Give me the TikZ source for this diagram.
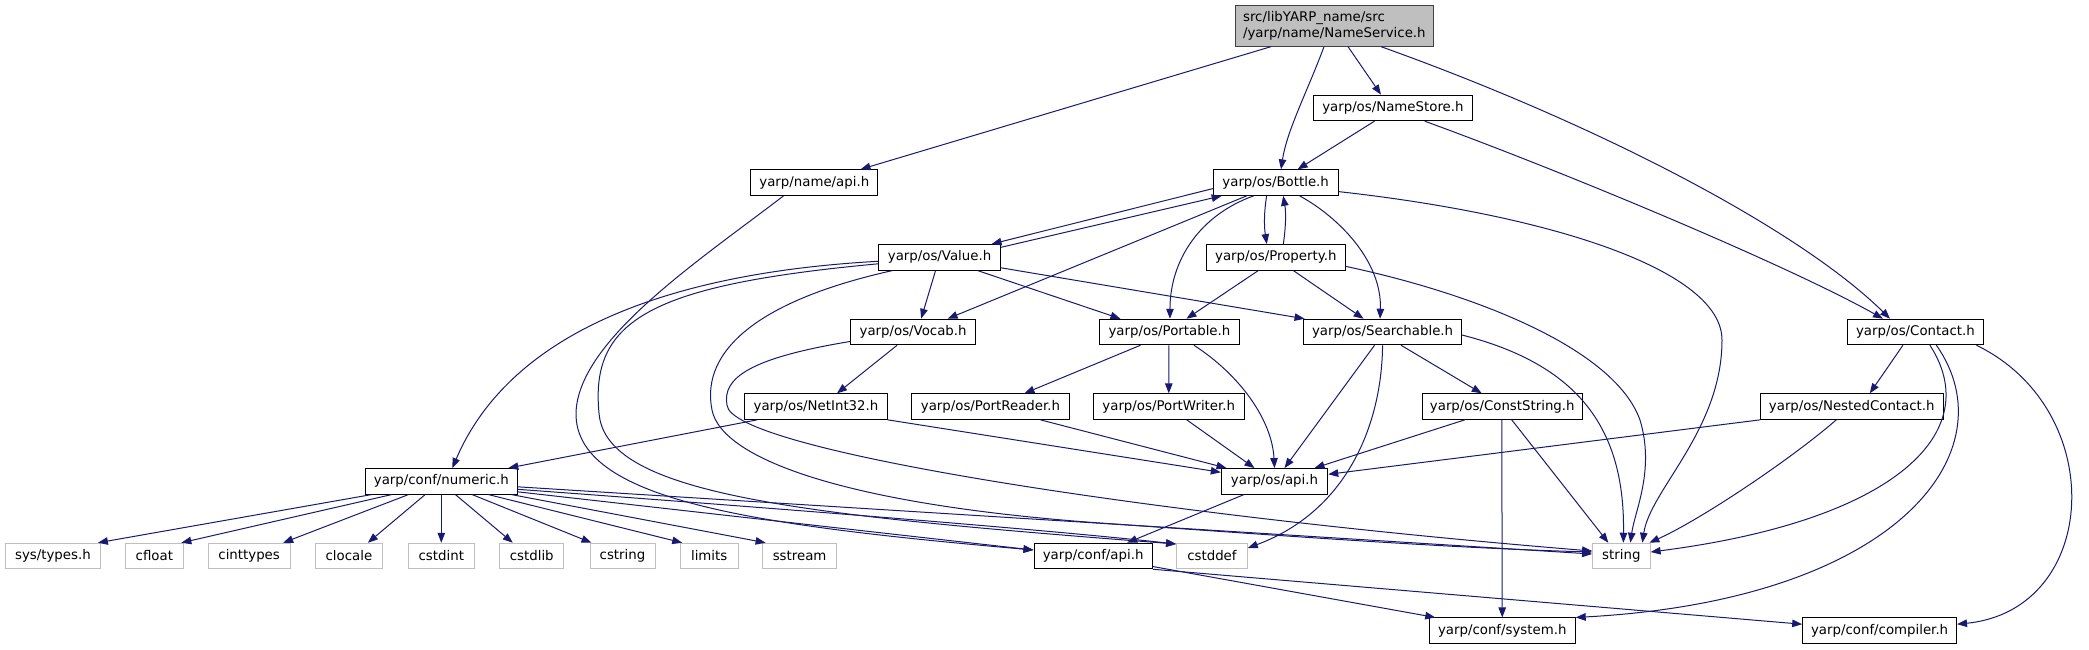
\documentclass[tikz,border=0pt]{standalone}
\usepackage{fontspec}
\setmainfont{DejaVu Sans}
\usetikzlibrary{arrows.meta}
\definecolor{edgec}{HTML}{191970}
\definecolor{grayb}{HTML}{BFBFBF}
\definecolor{rootfill}{HTML}{BFBFBF}
\begin{document}
\begin{tikzpicture}[x=1pt,y=-1pt,
  nbox/.style={draw=black, fill=white, line width=1pt, minimum height=25.5pt, inner sep=0pt, font=\fontsize{13.33}{15.4}\selectfont, text=black},
  sbox/.style={nbox, draw=grayb},
  rbox/.style={nbox, fill=rootfill, draw=black!75, minimum height=40.5pt, align=left},
  conn/.style={draw=edgec, line width=1pt, -{Triangle[length=10pt,width=7.5pt]}},
]
\useasboundingbox (0,0) rectangle (2089,649);

\node[rbox, minimum width=198.1pt] (nsvc) at (1334.35,25.9) {src/libYARP\_name/src\\/yarp/name/NameService.h};
\node[nbox, minimum width=158.6pt] (nstore) at (1392.9,107.9) {yarp/os/NameStore.h};
\node[nbox, minimum width=127.2pt] (napi) at (814.3,182.6) {yarp/name/api.h};
\node[nbox, minimum width=124.7pt] (bottle) at (1275.65,182.6) {yarp/os/Bottle.h};
\node[nbox, minimum width=121.9pt] (value) at (939.55,257.3) {yarp/os/Value.h};
\node[nbox, minimum width=138.4pt] (prop) at (1275.8,257.3) {yarp/os/Property.h};
\node[nbox, minimum width=125.2pt] (vocab) at (913.1,332) {yarp/os/Vocab.h};
\node[nbox, minimum width=139.9pt] (portable) at (1169.45,332) {yarp/os/Portable.h};
\node[nbox, minimum width=157.9pt] (search) at (1382.55,332) {yarp/os/Searchable.h};
\node[nbox, minimum width=135.8pt] (contact) at (1915.4,332) {yarp/os/Contact.h};
\node[nbox, minimum width=142.6pt] (netint) at (816,406.6) {yarp/os/NetInt32.h};
\node[nbox, minimum width=158.1pt] (preader) at (990.45,406.6) {yarp/os/PortReader.h};
\node[nbox, minimum width=150.5pt] (pwriter) at (1168.75,406.6) {yarp/os/PortWriter.h};
\node[nbox, minimum width=160.5pt] (cstr) at (1502.25,406.6) {yarp/os/ConstString.h};
\node[nbox, minimum width=182.5pt] (nested) at (1851.75,406.6) {yarp/os/NestedContact.h};
\node[nbox, minimum width=151.4pt] (numeric) at (441.3,481.3) {yarp/conf/numeric.h};
\node[nbox, minimum width=106.4pt] (osapi) at (1274.5,481.3) {yarp/os/api.h};
\node[sbox, minimum width=95pt] (systypes) at (52.9,556) {sys/types.h};
\node[sbox, minimum width=58.3pt] (cfloat) at (154.35,556) {cfloat};
\node[sbox, minimum width=81.7pt] (cinttypes) at (249.15,556) {cinttypes};
\node[sbox, minimum width=67pt] (clocale) at (348.9,556) {clocale};
\node[sbox, minimum width=65.6pt] (cstdint) at (441.3,556) {cstdint};
\node[sbox, minimum width=64.3pt] (cstdlib) at (531.75,556) {cstdlib};
\node[sbox, minimum width=65pt] (cstring) at (622.5,556) {cstring};
\node[sbox, minimum width=57.6pt] (limits) at (709.2,556) {limits};
\node[sbox, minimum width=73.6pt] (sstream) at (799.6,556) {sstream};
\node[nbox, minimum width=118.3pt] (confapi) at (1093.15,556) {yarp/conf/api.h};
\node[sbox, minimum width=70.7pt] (cstddef) at (1211.95,556) {cstddef};
\node[sbox, minimum width=57.5pt] (string) at (1621.35,556) {string};
\node[nbox, minimum width=145.9pt] (system) at (1502.25,630.7) {yarp/conf/system.h};
\node[nbox, minimum width=153.8pt] (compiler) at (1879.6,630.7) {yarp/conf/compiler.h};

% root
\draw[conn] ([xshift=-63.35pt]nsvc.south) -- ([xshift=46.2pt]napi.north);
\draw[conn] ([xshift=-10.35pt]nsvc.south) .. controls (1308,90) and (1287,130) .. ([xshift=5.35pt]bottle.north);
\draw[conn] ([xshift=13.65pt]nsvc.south) -- ([xshift=-11.9pt]nstore.north);
\draw[conn] ([xshift=46.65pt]nsvc.south) .. controls (1600,125) and (1800,230) .. ([xshift=-25.4pt]contact.north);
% NameStore
\draw[conn] ([xshift=-18.4pt]nstore.south) -- ([xshift=21.95pt]bottle.north);
\draw[conn] ([xshift=31.8pt]nstore.south) .. controls (1575,176) and (1793,268) .. ([xshift=-32.4pt]contact.north);
% name/api
\draw[conn] ([xshift=-30.8pt]napi.south) .. controls (700,260) and (578,340) .. (576,413) .. controls (575,500) and (750,525) .. ([yshift=6pt]confapi.west);
% Bottle / Value
\draw[conn] ([yshift=10pt]value.east) -- ([xshift=-54pt]bottle.south);
\draw[conn] ([yshift=-6pt]bottle.west) -- ([xshift=52pt]value.north);
\draw[conn] ([xshift=-29pt]bottle.south) -- ([xshift=34.5pt]vocab.north);
\draw[conn] ([xshift=-22pt]bottle.south) .. controls (1200,215) and (1170,260) .. ([xshift=0.5pt]portable.north);
\draw[conn] ([xshift=-9pt]bottle.south) .. controls (1264,212) and (1264,226) .. ([xshift=-9pt]prop.north);
\draw[conn] ([xshift=7.5pt]prop.north) .. controls (1286,226) and (1286,212) .. ([xshift=7.5pt]bottle.south);
\draw[conn] ([xshift=24pt]bottle.south) .. controls (1340,218) and (1382,262) .. ([xshift=-2.5pt]search.north);
\draw[conn] ([yshift=-9pt]bottle.east) .. controls (1550,215) and (1722,270) .. (1722,340) .. controls (1722,430) and (1650,490) .. ([xshift=21pt]string.north);
% Property
\draw[conn] ([xshift=-17.5pt]prop.south) -- ([xshift=17pt]portable.north);
\draw[conn] ([xshift=17.5pt]prop.south) -- ([xshift=-19pt]search.north);
\draw[conn] ([yshift=-9pt]prop.east) .. controls (1480,295) and (1615,350) .. (1640,420) .. controls (1655,470) and (1635,510) .. ([xshift=9pt]string.north);
% Value
\draw[conn] ([xshift=-4pt]value.south) -- ([xshift=8pt]vocab.north);
\draw[conn] ([xshift=38pt]value.south) -- ([xshift=-49pt]portable.north);
\draw[conn] ([yshift=-10.5pt]value.east) -- ([xshift=-78pt]search.north);
\draw[conn] ([yshift=-4pt]value.west) .. controls (720,270) and (520,310) .. ([xshift=11pt]numeric.north);
\draw[conn] ([yshift=-6.5pt]value.west) .. controls (650,285) and (590,320) .. (599,413) .. controls (605,495) and (800,515) .. ([yshift=12pt]cstddef.west);
\draw[conn] ([xshift=-47pt]value.south) .. controls (760,300) and (700,350) .. (712,410) .. controls (722,460) and (850,505) .. (1100,523) .. controls (1300,537) and (1450,548) .. ([yshift=4pt]string.west);
% Vocab
\draw[conn] ([xshift=-16pt]vocab.south) -- ([xshift=21pt]netint.north);
\draw[conn] ([yshift=-9.5pt]vocab.west) .. controls (750,358) and (722,378) .. (727,405) .. controls (730,450) and (1150,515) .. ([yshift=5pt]string.west);
% NetInt32, PortReader, PortWriter
\draw[conn] ([xshift=-59pt]netint.south) -- ([xshift=67pt]numeric.north);
\draw[conn] (netint.south east) -- ([yshift=9pt]osapi.west);
\draw[conn] ([xshift=50pt]preader.south) -- ([xshift=-48pt]osapi.north);
\draw[conn] ([xshift=18pt]pwriter.south) -- ([xshift=-20pt]osapi.north);
% Portable
\draw[conn] ([xshift=-29pt]portable.south) -- ([xshift=34pt]preader.north);
\draw[conn] ([xshift=-0.5pt]portable.south) -- (pwriter.north);
\draw[conn] ([xshift=24.5pt]portable.south) .. controls (1240,375) and (1272,420) .. (osapi.north);
% Searchable
\draw[conn] ([xshift=-8pt]search.south) -- ([xshift=10pt]osapi.north);
\draw[conn] (search.south) .. controls (1382,420) and (1350,510) .. ([yshift=8pt]cstddef.east);
\draw[conn] ([xshift=18.5pt]search.south) -- ([xshift=-20.5pt]cstr.north);
\draw[conn] ([yshift=-3pt]search.east) .. controls (1580,365) and (1625,430) .. ([xshift=2pt]string.north);
% ConstString
\draw[conn] ([xshift=-37.5pt]cstr.south) -- ([xshift=40pt]osapi.north);
\draw[conn] ([xshift=-0.5pt]cstr.south) -- (system.north);
\draw[conn] ([xshift=9.5pt]cstr.south) -- ([xshift=-13pt]string.north);
% Contact
\draw[conn] ([xshift=-12.5pt]contact.south) -- ([xshift=18pt]nested.north);
\draw[conn] ([xshift=14.5pt]contact.south) .. controls (1985,430) and (1900,520) .. ([yshift=4pt]string.east);
\draw[conn] ([xshift=21pt]contact.south) .. controls (2010,450) and (1900,600) .. (system.north east);
\draw[conn] ([xshift=61pt]contact.south) .. controls (2110,410) and (2100,610) .. ([yshift=6.5pt]compiler.east);
% NestedContact
\draw[conn] (nested.south west) -- ([yshift=7pt]osapi.east);
\draw[conn] ([xshift=-15.5pt]nested.south) .. controls (1790,460) and (1700,520) .. ([xshift=28pt]string.north);
% os/api, conf/api
\draw[conn] ([xshift=-30.5pt]osapi.south) -- ([xshift=34pt]confapi.north);
\draw[conn] ([yshift=-10.5pt]confapi.east) -- ([xshift=-67pt]system.north);
\draw[conn] (confapi.south east) -- ([yshift=6.5pt]compiler.west);
% numeric
\draw[conn] ([xshift=-69.6pt]numeric.south) -- ([xshift=45pt]systypes.north);
\draw[conn] ([xshift=-49.6pt]numeric.south) -- ([xshift=27pt]cfloat.north);
\draw[conn] ([xshift=-32.8pt]numeric.south) -- ([xshift=34pt]cinttypes.north);
\draw[conn] ([xshift=-16.1pt]numeric.south) -- ([xshift=19pt]clocale.north);
\draw[conn] (numeric.south) -- (cstdint.north);
\draw[conn] ([xshift=14.1pt]numeric.south) -- ([xshift=-19pt]cstdlib.north);
\draw[conn] ([xshift=30.8pt]numeric.south) -- ([xshift=-31pt]cstring.north);
\draw[conn] ([xshift=47pt]numeric.south) -- ([xshift=-27pt]limits.north);
\draw[conn] ([xshift=70pt]numeric.south) -- ([xshift=-34pt]sstream.north);
\draw[conn] ([yshift=-5.5pt]numeric.east) -- ([yshift=2pt]string.west);
\draw[conn] ([yshift=-8pt]numeric.east) .. controls (800,510) and (1050,530) .. ([yshift=12pt]cstddef.west);
\draw[conn] ([yshift=-10.5pt]numeric.east) -- ([yshift=6pt]confapi.west);
\end{tikzpicture}
\end{document}
